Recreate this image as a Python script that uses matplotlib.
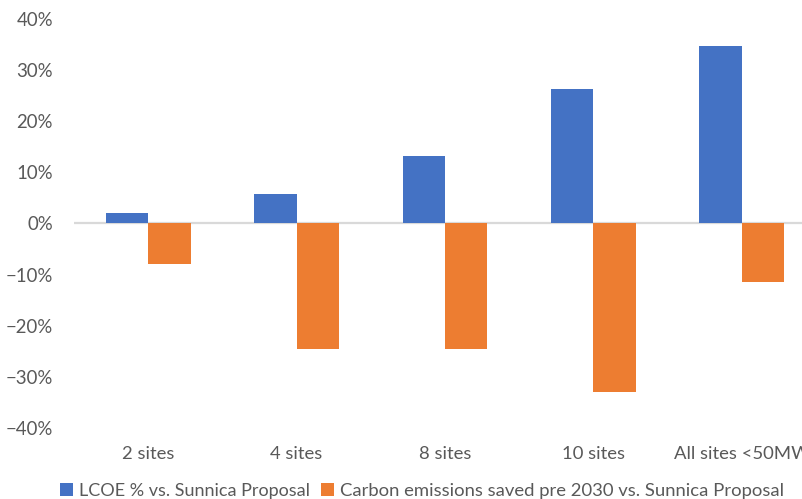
import matplotlib
matplotlib.use("Agg")
import matplotlib.pyplot as plt
from matplotlib.ticker import PercentFormatter

categories = ["2 sites", "4 sites", "8 sites", "10 sites", "All sites <50MW"]
lcoe = [2.0, 5.7, 13.2, 26.3, 34.7]
carbon = [-8.0, -24.6, -24.6, -33.0, -11.5]
series_names = ["LCOE % vs. Sunnica Proposal",
                "Carbon emissions saved pre 2030 vs. Sunnica Proposal"]
yticks = [-40, -30, -20, -10, 0, 10, 20, 30, 40]

plt.rcParams['font.family'] = ['Lato', 'DejaVu Sans']
TXT = '#595959'
BLUE = '#4472C4'
ORANGE = '#ED7D31'

fig = plt.figure(figsize=(8.02, 4.99), dpi=100)
ax = fig.add_axes([74/802, 1-428/499, (816-74)/802, (428-19)/499])

x = list(range(len(categories)))
w = 0.286
b1 = ax.bar([i - w/2 for i in x], lcoe, width=w, color=BLUE, label=series_names[0], zorder=3)
b2 = ax.bar([i + w/2 for i in x], carbon, width=w, color=ORANGE, label=series_names[1], zorder=3)

ax.set_xlim(-0.5, len(categories) - 0.5)
ax.set_ylim(-40, 40)
ax.set_yticks(yticks)
ax.yaxis.set_major_formatter(PercentFormatter(decimals=0))
ax.set_xticks(x)
ax.set_xticklabels(categories)
for s in ax.spines.values():
    s.set_visible(False)
ax.axhline(0, color='#D9D9D9', lw=1.6, zorder=2)
ax.tick_params(axis='y', length=0, pad=15, labelsize=13.4, labelcolor=TXT)
ax.tick_params(axis='x', length=0, pad=13, labelsize=13.3, labelcolor=TXT)

common = dict(frameon=False, labelcolor=TXT, handlelength=0.7, handleheight=0.7,
              handletextpad=0.35, borderaxespad=0, borderpad=0, loc='center left')
leg1 = fig.legend([b1], [series_names[0]], bbox_to_anchor=(60/802, 1-491/499),
                  fontsize=13, **common)
leg2 = fig.legend([b2], [series_names[1]], bbox_to_anchor=(321/802, 1-491/499),
                  fontsize=13.3, **common)

fig.savefig('out.png', dpi=100)
